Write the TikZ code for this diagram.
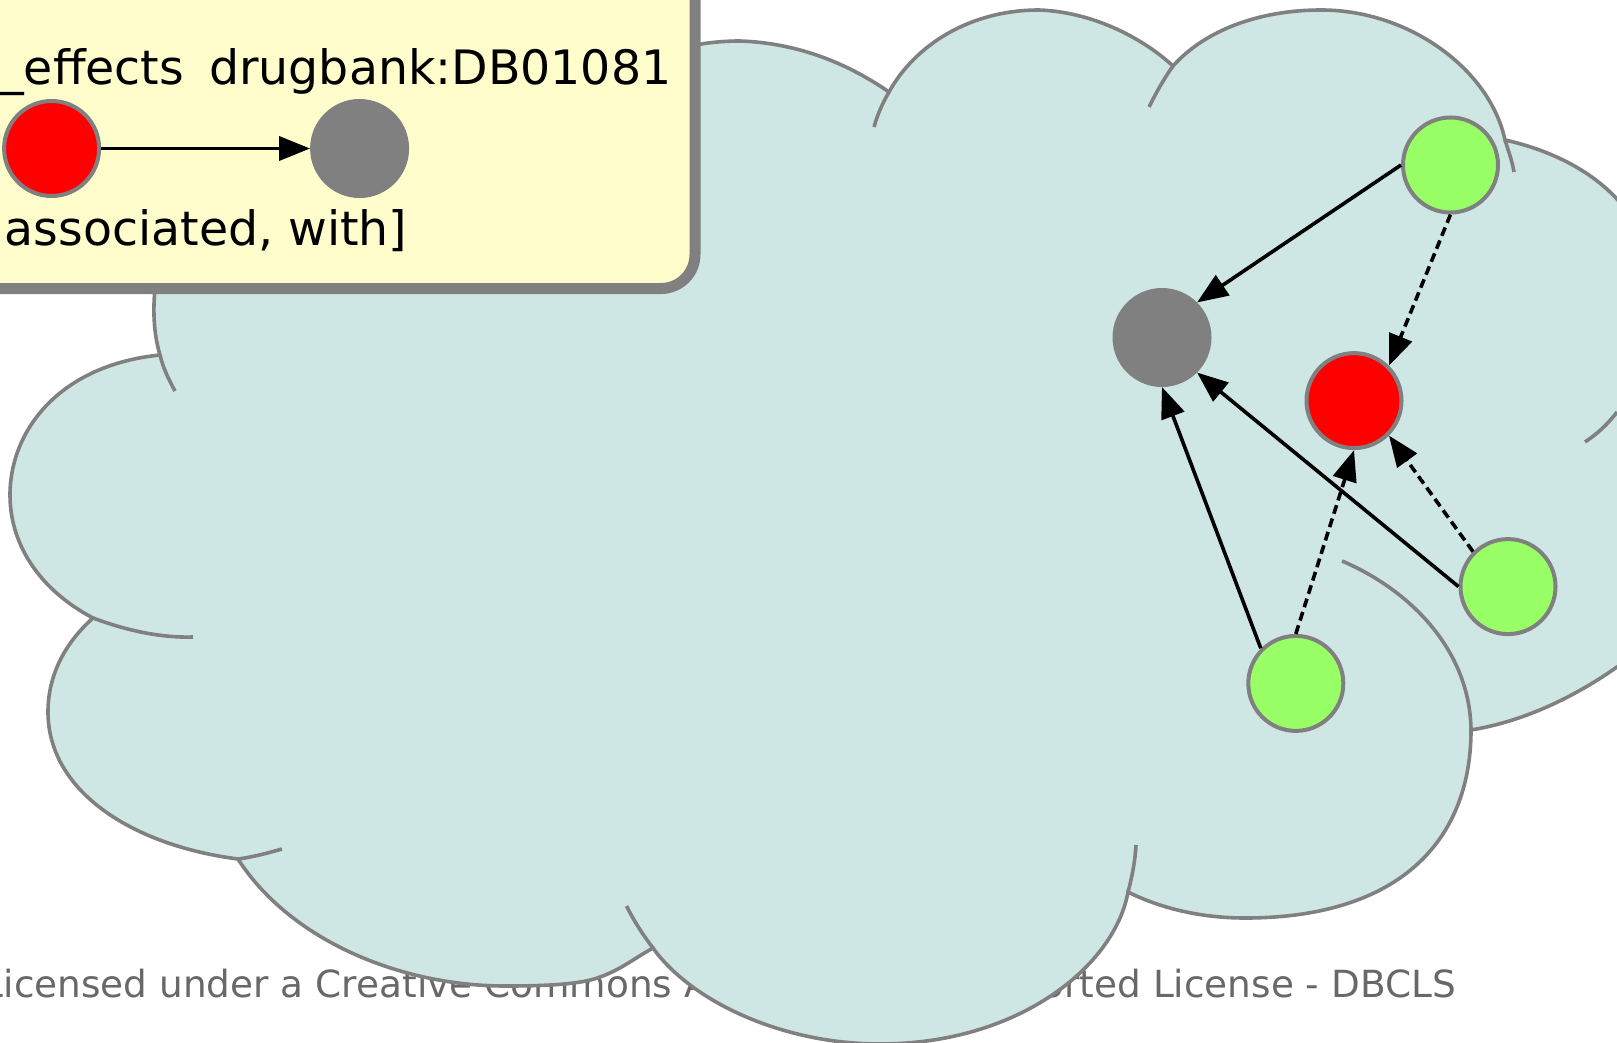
\documentclass[tikz,border=0pt]{standalone}
\usepackage{fontspec}
\setmainfont{DejaVu Sans}
\usepackage{xcolor}
\usepackage{tikz}
\usetikzlibrary{arrows.meta,positioning}

\definecolor{cloudfill}{RGB}{207,231,228}
\definecolor{linegray}{RGB}{128,128,128}
\definecolor{boxfill}{RGB}{255,253,204}
\definecolor{leafgreen}{RGB}{153,255,102}
\definecolor{foottext}{RGB}{104,104,104}

\begin{document}
\begin{tikzpicture}[
    x=1pt,y=-1pt,
    ent/.style={
      circle,
      draw=linegray,
      line width=4pt,
      minimum size=95pt,
      inner sep=0pt
    },
    drug/.style={ent,fill=linegray},
    effect/.style={ent,fill=red},
    other/.style={ent,fill=leafgreen},
    lbl/.style={
      inner sep=0pt,
      font=\fontsize{47.4pt}{57pt}\selectfont
    },
    foot/.style={
      inner sep=0pt,
      text=foottext,
      font=\fontsize{37.4pt}{45pt}\selectfont
    },
    cloudline/.style={draw=linegray,line width=3.6pt},
    link/.style={
      line width=3.6pt,
      -{Triangle[length=31pt,width=24pt]}
    },
    dlink/.style={link,dash pattern=on 9pt off 5pt}
    ]
    \useasboundingbox (0,0) rectangle (1617,1043);

    \node[foot,anchor=base east] (lic) at (1456,997)
      {Licensed under a Creative Commons Attribution 3.0 Unported License - DBCLS};

    % cloud outline, lobe by lobe
    \path[cloudline,fill=cloudfill] (160,355)
      .. controls (154,335) and (152,310) .. (156,280)
      .. controls (200,100) and (500,60) .. (600,80)
      .. controls (650,55) and (690,41) .. (740,41)
      .. controls (800,43) and (850,65) .. (889,92)
      .. controls (915,45) and (970,10) .. (1039,10)
      .. controls (1095,12) and (1145,40) .. (1173,66)
      .. controls (1205,30) and (1260,10) .. (1321,10)
      .. controls (1410,10) and (1490,70) .. (1505,140)
      .. controls (1550,150) and (1590,170) .. (1617,199)
      .. controls (1650,240) and (1690,320) .. (1690,420)
      -- (1690,600)
      .. controls (1670,635) and (1645,652) .. (1617,667)
      .. controls (1570,700) and (1520,722) .. (1471,730)
      .. controls (1471,840) and (1400,918) .. (1245,918)
      .. controls (1200,918) and (1160,908) .. (1128,892)
      .. controls (1115,965) and (1020,1044) .. (880,1044)
      .. controls (780,1044) and (690,1000) .. (653,948)
      .. controls (635,958) and (620,970) .. (600,977)
      .. controls (580,985) and (540,986) .. (505,986)
      .. controls (400,986) and (290,940) .. (238,859)
      .. controls (130,845) and (48,790) .. (48,712)
      .. controls (48,675) and (65,643) .. (93,618)
      .. controls (40,590) and (10,545) .. (10,495)
      .. controls (10,430) and (60,365) .. (160,355)
      -- cycle;
    % inner ends of the lobes
    \draw[cloudline] (889,92) .. controls (882,104) and (877,116) .. (874,127);
    \draw[cloudline] (1173,66) .. controls (1163,80) and (1155,95) .. (1149,107);
    \draw[cloudline] (1505,140) .. controls (1508,150) and (1512,160) .. (1514,172);
    \draw[cloudline] (1617,412) .. controls (1607,425) and (1597,434) .. (1585,442);
    \draw[cloudline] (1471,730) .. controls (1470,650) and (1410,590) .. (1342,561);
    \draw[cloudline] (1128,892) .. controls (1132,877) and (1135,862) .. (1136,845);
    \draw[cloudline] (653,948) .. controls (643,935) and (634,921) .. (626.5,906);
    \draw[cloudline] (238,859) .. controls (253,857) and (268,853) .. (282,849);
    \draw[cloudline] (93,618) .. controls (125,630) and (160,638) .. (193,637);
    \draw[cloudline] (160,355) .. controls (163,368) and (169,380) .. (175,391);

    % legend
    \draw[draw=linegray,line width=11pt,fill=boxfill,rounded corners=34pt]
      (-60,-60) rectangle (695,288.5);
    \node[effect] at (51.6,148.5)
      (lse) {};
    \node[drug,right=209pt of lse]
      (ldb) {};
    \node[lbl,anchor=base west] at (0,85)
      (lsetxt) {\_effects};
    \node[lbl,anchor=base west] at (209,85)
      (ldbtxt) {drugbank:DB01081};
    \node[lbl,anchor=base west] at (4.5,245)
      (lrel) {associated, with]};
    \draw[link] (lse) -- (ldb);

    \node[drug] at (1162,337.5) (db) {};
    \node[effect] at (1354,400.6) (se) {};
    \node[other] at (1450.5,165) (g1) {};
    \node[other] at (1508,586.6) (g2) {};
    \node[other] at (1295.8,683.4) (g3) {};

    \draw[link] (g1.west) -- (db.north east);
    \draw[dlink] (g1.south) -- (se.north east);
    \draw[link] (g2.west) -- (db.south east);
    \draw[dlink] (g2.north west) -- (se.south east);
    \draw[link] (g3.north west) -- (db.south);
    \draw[dlink] (g3.north) -- (se.south);
\end{tikzpicture}
\end{document}
